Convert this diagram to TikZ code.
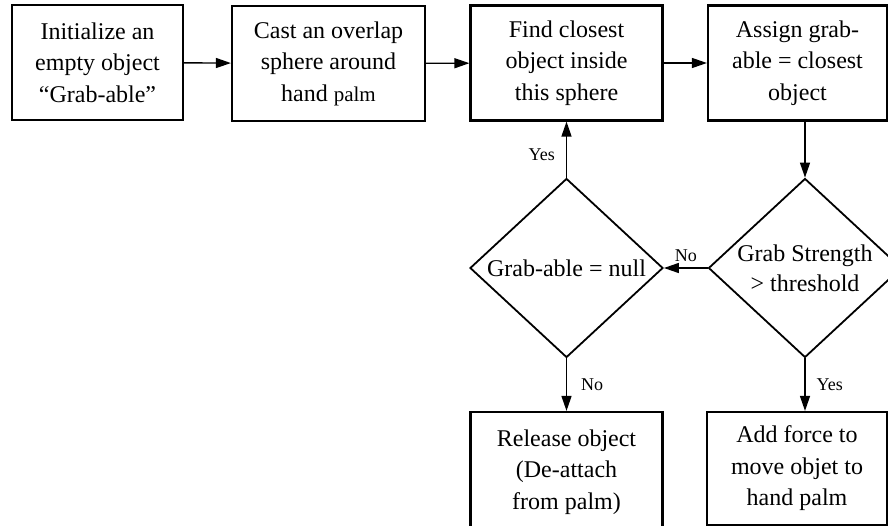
\documentclass[tikz,border=0pt]{standalone}
\usepackage{fontspec}
\setmainfont{Liberation Serif}
\usetikzlibrary{shapes.geometric,arrows.meta}

\tikzset{
  stepbox/.style={draw, line width=2.2pt, align=center, inner sep=0pt,
                  minimum height=115pt, font=\fontsize{24}{31.5}\selectfont},
  choice/.style={draw, diamond, line width=1.8pt, align=center, inner sep=-10pt,
                 minimum width=193pt, minimum height=179pt,
                 font=\fontsize{24}{30}\selectfont},
  flow/.style={line width=1.4pt, -{Triangle[length=15pt,width=10pt]}},
  tag/.style={font=\fontsize{18}{18}\selectfont, inner sep=0pt},
}

\begin{document}
\begin{tikzpicture}[x=1pt, y=-1pt]
\useasboundingbox (0,0) rectangle (888,526);

\node (init)   [stepbox, minimum width=171pt] at (97.5,62.5)
  {Initialize an\\empty object\\“Grab-able”};
\node (cast)   [stepbox, minimum width=193pt] at (328.5,63.5)
  {Cast an overlap\\sphere around\\hand {\fontsize{21}{31.5}\selectfont palm}};
\node (find)   [stepbox, minimum width=192pt] at (566.5,63)
  {Find closest\\object inside\\this sphere};
\node (assign) [stepbox, minimum width=179pt] at (797.5,63)
  {Assign grab-\\able = closest\\object};

\node (isnull)   [choice] at (566.5,268) {Grab-able = null};
\node (strength) [choice] at (805,268) {Grab Strength\\> threshold};

\node (release)  [stepbox, minimum width=192pt, minimum height=120pt] at (566.5,472)
  {Release object\\(De-attach\\from palm)};
\node (addforce) [stepbox, minimum width=180pt, minimum height=113pt] at (797,468.5)
  {Add force to\\move objet to\\hand palm};

\draw[flow] (init) -- (cast);
\draw[flow] (cast) -- (find);
\draw[flow] (find) -- (assign);
\draw[flow] (strength.north |- assign.south) -- (strength.north);
\draw[flow] (strength.west) -- node[tag, midway, above=6pt] {No} (isnull.east);
\draw[flow] (isnull.north) -- node[tag, midway, left=11pt, yshift=-5pt] {Yes} (find.south);
\draw[flow] (isnull.south) -- node[tag, midway, right=14pt] {No} (release.north);
\draw[flow] (strength.south) -- node[tag, midway, right=11pt] {Yes} (strength.south |- addforce.north);
\end{tikzpicture}
\end{document}
